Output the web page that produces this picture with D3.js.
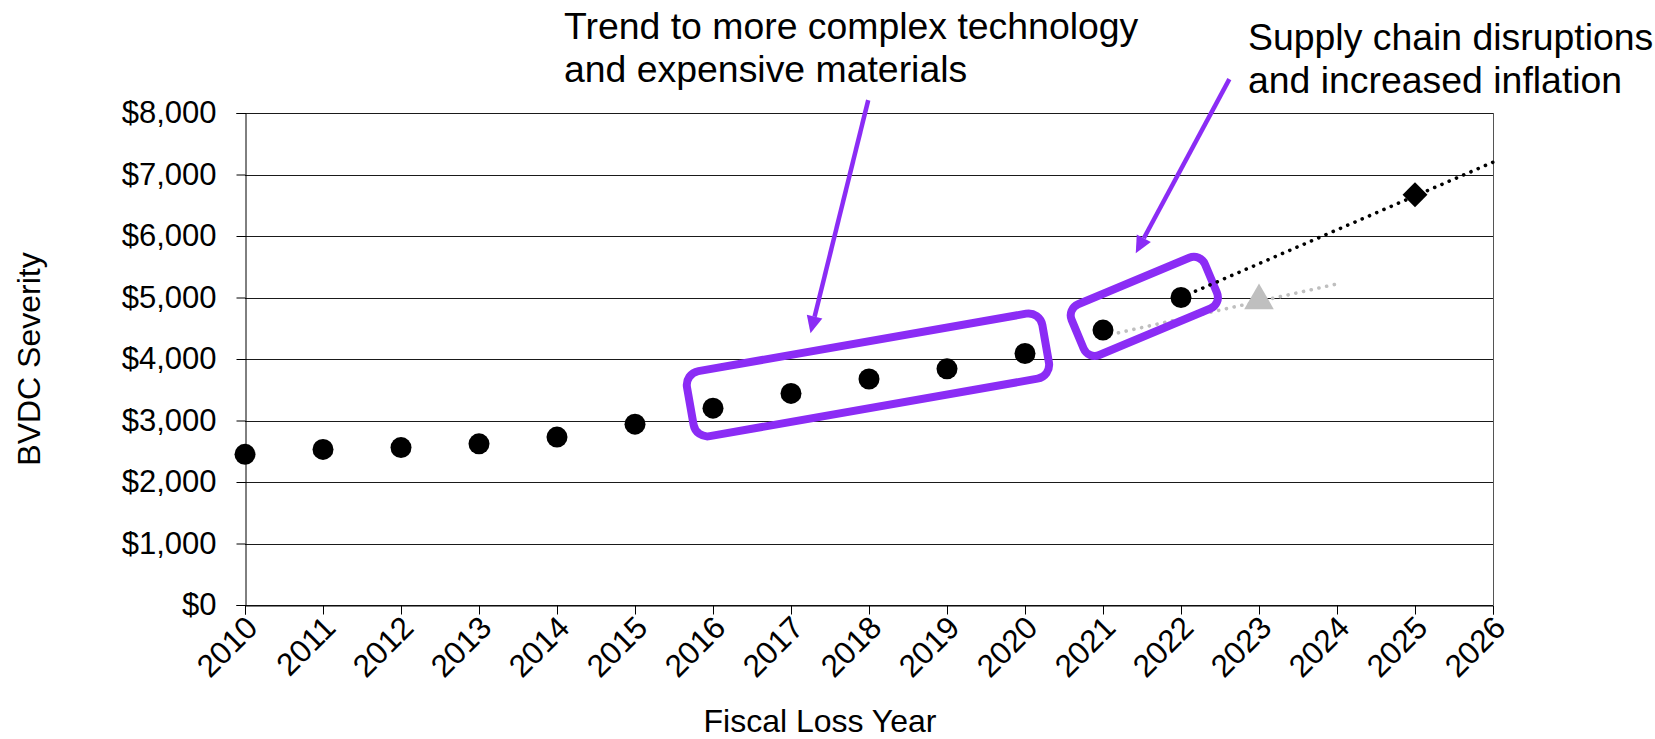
<!DOCTYPE html>
<html>
<head>
<meta charset="utf-8">
<script src="https://cdn.jsdelivr.net/npm/d3@7"></script>
<style>
  html, body { margin: 0; padding: 0; background: #fff; }
  svg { display: block; font-family: "Liberation Sans", Arial, sans-serif; }
</style>
</head>
<body>
<svg id="chart" width="1655" height="739"></svg>
<script>
// Historical severity by fiscal loss year
const years = [2010, 2011, 2012, 2013, 2014, 2015, 2016, 2017, 2018, 2019, 2020, 2021, 2022];
const severity = [2450, 2530, 2560, 2620, 2730, 2940, 3200, 3440, 3675, 3840, 4090, 4470, 5000];

// Projections
const grayProjection = [{ year: 2023, value: 4950 }];
const blackProjection = [{ year: 2025, value: 6670 }];

// Dotted trend lines
const blackTrend = [{ year: 2022, value: 5000 }, { year: 2026, value: 7200 }];
const grayTrend = [{ year: 2021, value: 4370 }, { year: 2024, value: 5220 }];

// Axis ticks
const yearTicks = d3.range(2010, 2027);
const valueTicks = [0, 1000, 2000, 3000, 4000, 5000, 6000, 7000, 8000];

const PURPLE = "#8b2cf5";
const GRAY = "#bfbfbf";

const svg = d3.select("#chart");
const plotLeft = 245, plotRight = 1493, plotTop = 113, plotBottom = 605;

const x = d3.scaleLinear().domain([2010, 2026]).range([plotLeft, plotRight]);
const y = d3.scaleLinear().domain([0, 8000]).range([plotBottom, plotTop]);

// Horizontal gridlines
svg.append("g")
  .selectAll("line")
  .data(valueTicks)
  .join("line")
  .attr("x1", plotLeft).attr("x2", plotRight)
  .attr("y1", d => Math.round(y(d)) + 0.5).attr("y2", d => Math.round(y(d)) + 0.5)
  .attr("stroke", "#1a1a1a").attr("stroke-width", 1);

// Right frame line
svg.append("line")
  .attr("x1", plotRight + 0.5).attr("x2", plotRight + 0.5)
  .attr("y1", plotTop).attr("y2", plotBottom)
  .attr("stroke", "#555").attr("stroke-width", 1);

// Y axis
const yAxis = svg.append("g")
  .attr("transform", `translate(${plotLeft + 0.5},0)`)
  .call(d3.axisLeft(y).tickValues(valueTicks).tickSize(9).tickPadding(20)
    .tickFormat(d3.format("$,.0f")));
yAxis.select(".domain").attr("stroke", "#000");
yAxis.selectAll(".tick line").attr("stroke", "#000");
yAxis.selectAll("text")
  .attr("font-size", 31).attr("fill", "#000")
  .attr("font-family", "Liberation Sans, Arial, sans-serif");

// X axis
const xAxis = svg.append("g")
  .attr("transform", `translate(0,${plotBottom + 0.5})`)
  .call(d3.axisBottom(x).tickValues(yearTicks).tickSize(9).tickFormat(d3.format("d")));
xAxis.select(".domain").attr("stroke", "#000");
xAxis.selectAll(".tick line").attr("stroke", "#000");
xAxis.selectAll("text")
  .attr("font-size", 31.5).attr("fill", "#000")
  .attr("font-family", "Liberation Sans, Arial, sans-serif")
  .attr("text-anchor", "end")
  .attr("y", 0).attr("dy", 0)
  .attr("transform", "translate(14,24) rotate(-45)");

// Axis titles
svg.append("text")
  .attr("transform", `translate(40,${(plotTop + plotBottom) / 2}) rotate(-90)`)
  .attr("text-anchor", "middle")
  .attr("font-size", 32).attr("fill", "#000")
  .text("BVDC Severity");

svg.append("text")
  .attr("x", 820).attr("y", 732)
  .attr("text-anchor", "middle")
  .attr("font-size", 32).attr("fill", "#000")
  .text("Fiscal Loss Year");

const line = d3.line().x(d => x(d.year)).y(d => y(d.value));

// Gray dotted trend
svg.append("path")
  .datum(grayTrend)
  .attr("d", line)
  .attr("fill", "none")
  .attr("stroke", GRAY).attr("stroke-width", 3.6)
  .attr("stroke-linecap", "round")
  .attr("stroke-dasharray", "0.1 7.8");

// Rounded boxes around groups of points, rotated along the points they enclose
function groupBox(a, b, pad, height, offset, shift, radius) {
  const x1 = x(a.year), y1 = y(a.value), x2 = x(b.year), y2 = y(b.value);
  const ang = Math.atan2(y2 - y1, x2 - x1);
  const len = Math.hypot(x2 - x1, y2 - y1) + 2 * pad;
  const cx = (x1 + x2) / 2 + Math.sin(ang) * offset + Math.cos(ang) * shift;
  const cy = (y1 + y2) / 2 - Math.cos(ang) * offset + Math.sin(ang) * shift;
  svg.append("rect")
    .attr("x", -len / 2).attr("y", -height / 2)
    .attr("width", len).attr("height", height)
    .attr("rx", radius).attr("ry", radius)
    .attr("fill", "none")
    .attr("stroke", PURPLE).attr("stroke-width", 8)
    .attr("transform", `translate(${cx},${cy}) rotate(${ang * 180 / Math.PI})`);
}
const pt = i => ({ year: years[i], value: severity[i] });
groupBox(pt(6), pt(10), 22, 66, 6, 0, 14);
groupBox(pt(11), pt(12), 30, 55, 6, 5, 12);

// Black dotted trend
svg.append("path")
  .datum(blackTrend)
  .attr("d", line)
  .attr("fill", "none")
  .attr("stroke", "#000").attr("stroke-width", 3.6)
  .attr("stroke-linecap", "round")
  .attr("stroke-dasharray", "0.1 7.8");

// Historical points
svg.append("g")
  .selectAll("circle")
  .data(years.map((yr, i) => ({ year: yr, value: severity[i] })))
  .join("circle")
  .attr("cx", d => x(d.year)).attr("cy", d => y(d.value))
  .attr("r", 10.5).attr("fill", "#000");

// Projection markers
svg.append("g")
  .selectAll("path")
  .data(grayProjection)
  .join("path")
  .attr("d", d3.symbol(d3.symbolTriangle, 380))
  .attr("transform", d => `translate(${x(d.year)},${y(d.value)})`)
  .attr("fill", GRAY);

svg.append("g")
  .selectAll("path")
  .data(blackProjection)
  .join("path")
  .attr("d", d3.symbol(d3.symbolSquare, 310))
  .attr("transform", d => `translate(${x(d.year)},${y(d.value)}) rotate(45)`)
  .attr("fill", "#000");

// Annotation arrows
const arrows = [
  { from: { year: 2017.99, value: 8210 }, to: { year: 2017.25, value: 4420 } },
  { from: { year: 2022.62, value: 8550 }, to: { year: 2021.42, value: 5720 } }
];
arrows.forEach(a => {
  const x1 = x(a.from.year), y1 = y(a.from.value), x2 = x(a.to.year), y2 = y(a.to.value);
  const ang = Math.atan2(y2 - y1, x2 - x1);
  const headLen = 17, headW = 8;
  const bx = x2 - Math.cos(ang) * headLen, by = y2 - Math.sin(ang) * headLen;
  svg.append("line")
    .attr("x1", x1).attr("y1", y1).attr("x2", bx).attr("y2", by)
    .attr("stroke", PURPLE).attr("stroke-width", 4.5);
  const px = -Math.sin(ang) * headW, py = Math.cos(ang) * headW;
  svg.append("path")
    .attr("d", `M${x2},${y2}L${bx + px},${by + py}L${bx - px},${by - py}Z`)
    .attr("fill", PURPLE);
});

// Annotation text
const notes = [
  { x: 564, y: 39, lines: ["Trend to more complex technology", "and expensive materials"] },
  { x: 1248, y: 50, lines: ["Supply chain disruptions", "and increased inflation"] }
];
notes.forEach(n => {
  const t = svg.append("text").attr("font-size", 37.4).attr("fill", "#000");
  n.lines.forEach((l, i) => {
    t.append("tspan").attr("x", n.x).attr("y", n.y + i * 43).text(l);
  });
});
</script>
</body>
</html>
